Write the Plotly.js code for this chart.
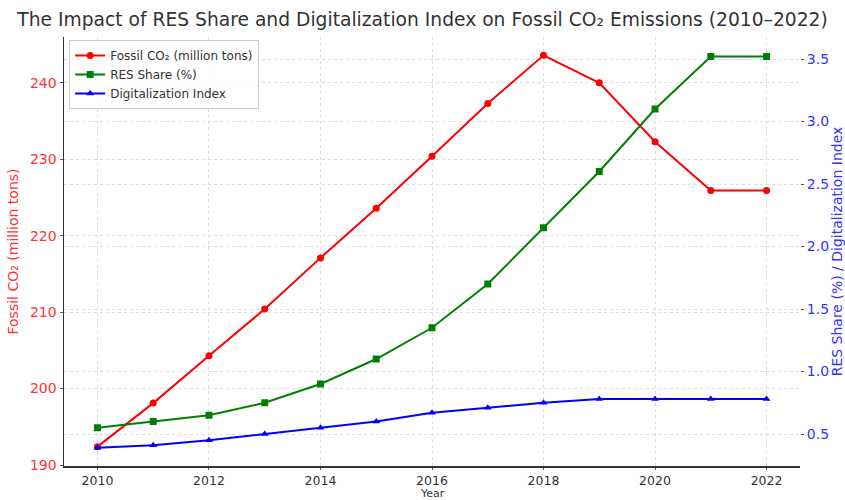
<!DOCTYPE html>
<html>
<head>
<meta charset="utf-8">
<script src="https://cdn.plot.ly/plotly-3.0.1.min.js"></script>
<style>html,body{margin:0;padding:0;background:#fff;}#chart{width:845px;height:500px;}</style>
</head>
<body>
<div id="chart"></div>
<script>
const years = [2010, 2011, 2012, 2013, 2014, 2015, 2016, 2017, 2018, 2019, 2020, 2021, 2022];
const fossilCO2 = [192.4, 198.1, 204.3, 210.4, 217.1, 223.6, 230.4, 237.3, 243.6, 240.0, 232.3, 225.9, 225.9];
const resShare = [0.55, 0.60, 0.65, 0.75, 0.90, 1.10, 1.35, 1.70, 2.15, 2.60, 3.10, 3.52, 3.52];
const digitalIndex = [0.39, 0.41, 0.45, 0.50, 0.55, 0.60, 0.67, 0.71, 0.75, 0.78, 0.78, 0.78, 0.78];
const xTicks = [2010, 2012, 2014, 2016, 2018, 2020, 2022];
const leftTicks = [190, 200, 210, 220, 230, 240];
const rightTicks = [0.5, 1.0, 1.5, 2.0, 2.5, 3.0, 3.5];

const FONT = 'DejaVu Sans, sans-serif';
const traces = [
  {x: years, y: fossilCO2, name: 'Fossil CO₂ (million tons)', type: 'scatter', mode: 'lines+markers',
   line: {color: '#ff0000', width: 2}, marker: {symbol: 'circle', size: 7, color: '#ff0000'}, yaxis: 'y'},
  {x: years, y: resShare, name: 'RES Share (%)', type: 'scatter', mode: 'lines+markers',
   line: {color: '#008000', width: 2}, marker: {symbol: 'square', size: 7, color: '#008000'}, yaxis: 'y2'},
  {x: years, y: digitalIndex, name: 'Digitalization Index', type: 'scatter', mode: 'lines+markers',
   line: {color: '#0000ff', width: 2}, marker: {symbol: 'triangle-up', size: 7, color: '#0000ff'}, yaxis: 'y2'}
];

const gridCommon = {showgrid: true, gridcolor: '#dcdcdc', griddash: 'dot', gridwidth: 1, zeroline: false};

const layout = {
  width: 845, height: 500,
  margin: {l: 64, r: 45, t: 37, b: 34},
  paper_bgcolor: '#ffffff', plot_bgcolor: '#ffffff',
  font: {family: FONT, size: 13, color: '#333'},
  title: {text: 'The Impact of RES Share and Digitalization Index on Fossil CO₂ Emissions (2010–2022)',
          font: {family: FONT, size: 18.7, color: '#333'}, x: 0.5, xanchor: 'center', y: 0.975, yanchor: 'top'},
  showlegend: true,
  legend: {x: 0.007, y: 0.993, xanchor: 'left', yanchor: 'top', bgcolor: 'rgba(255,255,255,0.9)',
           bordercolor: '#cccccc', borderwidth: 1, font: {family: FONT, size: 12, color: '#333'},
           tracegroupgap: 0, itemwidth: 30},
  xaxis: Object.assign({}, gridCommon, {
    range: [2009.4, 2022.6], tickvals: xTicks, ticktext: xTicks.map(String),
    showline: true, linecolor: '#333', linewidth: 1.5, ticks: 'outside', ticklen: 2, tickcolor: '#555',
    tickfont: {family: FONT, size: 12.5, color: '#333'}
  }),
  yaxis: Object.assign({}, gridCommon, {
    range: [189.87, 246.0], tickvals: leftTicks, ticktext: leftTicks.map(String),
    showline: true, linecolor: '#333', linewidth: 1.5, ticks: 'outside', ticklen: 3, tickcolor: '#555',
    tickfont: {family: FONT, size: 14, color: '#ff3333'},
    title: {text: 'Fossil CO₂ (million tons)', font: {family: FONT, size: 14, color: '#ff3333'}, standoff: 8}
  }),
  yaxis2: Object.assign({}, gridCommon, {
    overlaying: 'y', side: 'right', range: [0.244, 3.676], tickvals: rightTicks,
    ticktext: rightTicks.map(v => v.toFixed(1)),
    showline: false, ticks: 'outside', ticklen: 3, tickcolor: '#555',
    tickfont: {family: FONT, size: 14, color: '#3333ff'},
    title: {text: 'RES Share (%) / Digitalization Index', font: {family: FONT, size: 14, color: '#3333ff'}, standoff: 6}
  }),
  annotations: [
    {text: 'Year', xref: 'paper', yref: 'paper', x: 0.5, y: -0.064, xanchor: 'center', yanchor: 'middle',
     showarrow: false, font: {family: FONT, size: 11, color: '#333'}}
  ]
};

Plotly.newPlot('chart', traces, layout, {displayModeBar: false, staticPlot: true});
</script>
</body>
</html>
